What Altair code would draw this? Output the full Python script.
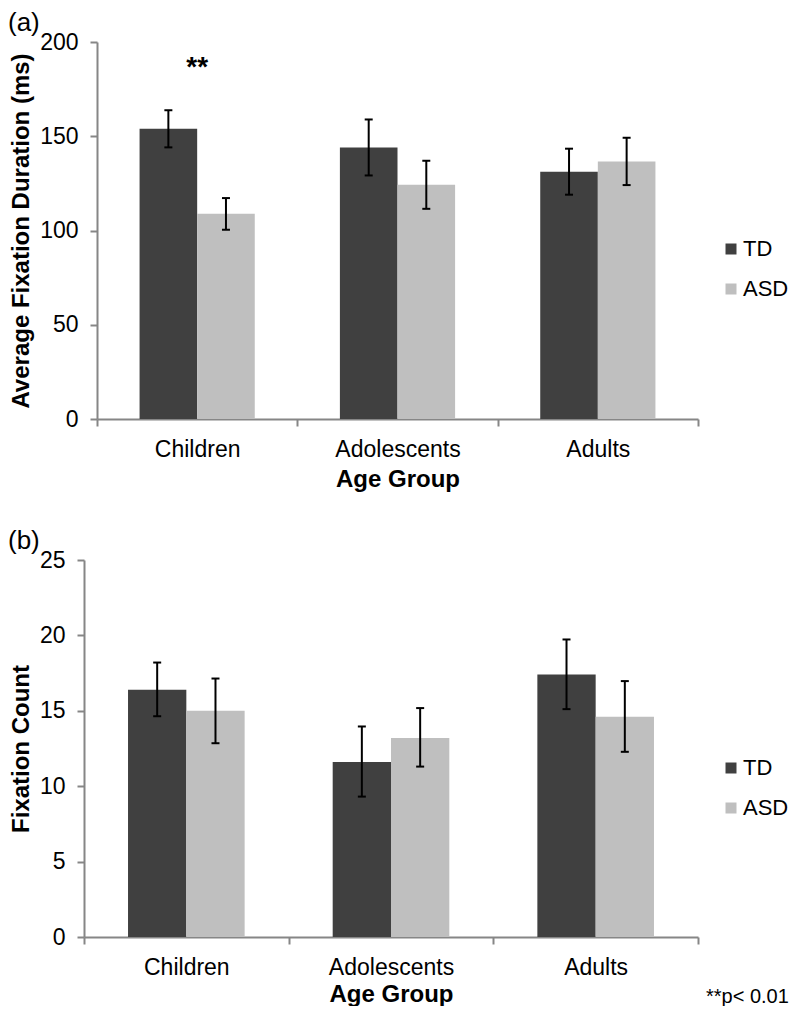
import altair as alt
import pandas as pd

groups = ["Children", "Adolescents", "Adults"]
series = ["TD", "ASD"]
colors = ["#404040", "#bfbfbf"]

# (a) Average fixation duration (ms)
dur_td = [154.0, 144.0, 131.2]
dur_asd = [108.9, 124.3, 136.6]
dur_td_lo = [144.1, 129.2, 119.0]
dur_td_hi = [163.8, 158.9, 143.4]
dur_asd_lo = [100.4, 111.5, 124.1]
dur_asd_hi = [117.2, 137.0, 149.2]
dur_ticks = [0, 50, 100, 150, 200]

# (b) Fixation count
cnt_td = [16.4, 11.6, 17.4]
cnt_asd = [15.0, 13.2, 14.6]
cnt_td_lo = [14.64, 9.31, 15.11]
cnt_td_hi = [18.2, 13.96, 19.73]
cnt_asd_lo = [12.85, 11.30, 12.28]
cnt_asd_hi = [17.14, 15.18, 16.97]
cnt_ticks = [0, 5, 10, 15, 20, 25]

FONT = "Liberation Sans"
AXIS_GRAY = "#868686"


def frame(td, asd, td_lo, td_hi, asd_lo, asd_hi):
    rows = []
    for i, g in enumerate(groups):
        rows.append({"group": g, "series": "TD", "mean": td[i], "lo": td_lo[i], "hi": td_hi[i]})
        rows.append({"group": g, "series": "ASD", "mean": asd[i], "lo": asd_lo[i], "hi": asd_hi[i]})
    return pd.DataFrame(rows)


def panel(df, ytitle, ydomain, yticks, xrange, po, yoff, ytitle_x, xtitle_x, xtitle_y, legend_y, tag):
    W, H = 614, 377
    xaxis = alt.Axis(
        title="Age Group", titleFont=FONT, titleFontSize=24, titleFontWeight="bold",
        titleColor="black", titleY=xtitle_y, titleBaseline="middle", titleX=xtitle_x,
        labelFont=FONT, labelFontSize=23, labelColor="black", labelAngle=0, labelPadding=12,
        tickBand="extent", tickSize=7, tickColor=AXIS_GRAY, tickWidth=2,
        domainColor=AXIS_GRAY, domainWidth=2,
    )
    yaxis = alt.Axis(
        title=ytitle, titleFont=FONT, titleFontSize=24, titleFontWeight="bold",
        titleColor="black", titleX=ytitle_x, titleY=H / 2, titleBaseline="alphabetic",
        titleAngle=270, titleAlign="center",
        labelFont=FONT, labelFontSize=23, labelColor="black", labelPadding=12,
        values=yticks, tickSize=7, tickColor=AXIS_GRAY, tickWidth=2,
        domainColor=AXIS_GRAY, domainWidth=2, grid=False, offset=yoff,
    )
    x = alt.X("group:N", sort=groups,
              scale=alt.Scale(range=xrange, paddingInner=0, paddingOuter=0), axis=xaxis)
    xo = alt.XOffset("series:N", sort=series,
                     scale=alt.Scale(domain=series, paddingInner=0, paddingOuter=po))
    yscale = alt.Scale(domain=ydomain, nice=False, zero=True)

    bars = alt.Chart(df).mark_bar().encode(
        x=x, xOffset=xo,
        y=alt.Y("mean:Q", scale=yscale, axis=yaxis),
        color=alt.Color("series:N", sort=series,
                        scale=alt.Scale(domain=series, range=colors),
                        legend=alt.Legend(
                            orient="none", legendX=636, legendY=legend_y, title=None,
                            symbolType="square", symbolSize=121, symbolStrokeWidth=0,
                            symbolOpacity=1, labelFont=FONT, labelFontSize=22,
                            labelColor="black", labelOffset=1, rowPadding=18, padding=0)),
    )
    rules = alt.Chart(df).mark_rule(color="black", strokeWidth=2).encode(
        x=x, xOffset=xo,
        y=alt.Y("lo:Q", scale=yscale, axis=yaxis), y2="hi:Q",
    )
    cap_lo = alt.Chart(df).mark_tick(color="black", size=8, thickness=2, opacity=1).encode(
        x=x, xOffset=xo, y=alt.Y("lo:Q", scale=yscale, axis=yaxis),
    )
    cap_hi = alt.Chart(df).mark_tick(color="black", size=8, thickness=2, opacity=1).encode(
        x=x, xOffset=xo, y=alt.Y("hi:Q", scale=yscale, axis=yaxis),
    )
    tag_df = pd.DataFrame({"t": [tag]})
    tag_txt = alt.Chart(tag_df).mark_text(
        font=FONT, fontSize=26, color="black", align="left", baseline="alphabetic"
    ).encode(text="t:N", x=alt.value(-76), y=alt.value(-11))
    layers = [bars, rules, cap_lo, cap_hi, tag_txt]
    return layers, W, H, x, yscale, yaxis


# Panel (a)
df_a = frame(dur_td, dur_asd, dur_td_lo, dur_td_hi, dur_asd_lo, dur_asd_hi)
layers_a, W, H, xa, ysa, yaa = panel(df_a, "Average Fixation Duration (ms)", [0, 200], dur_ticks,
                                     [13, 614], 0.739, -13, -69, 313.5, 60, 196, "(a)")
star_df = pd.DataFrame({"group": ["Children"], "y": [182], "t": ["**"]})
star = alt.Chart(star_df).mark_text(
    font=FONT, fontSize=28, fontWeight="bold", color="black", baseline="alphabetic"
).encode(
    x=xa,
    y=alt.Y("y:Q", scale=ysa, axis=yaa),
    text="t:N",
)
chart_a = alt.layer(*layers_a, star).properties(width=W, height=H)

# Panel (b)
df_b = frame(cnt_td, cnt_asd, cnt_td_lo, cnt_td_hi, cnt_asd_lo, cnt_asd_hi)
layers_b, W, H, xb, ysb, yab = panel(df_b, "Fixation Count", [0, 25], cnt_ticks,
                                     [0, 614], 0.755, 0, -56, 307, 57, 197, "(b)")
note_df = pd.DataFrame({"t": ["**p< 0.01"]})
note = alt.Chart(note_df).mark_text(
    font=FONT, fontSize=20, color="black", align="left", baseline="middle"
).encode(text="t:N", x=alt.value(622), y=alt.value(437))
chart_b = alt.layer(*layers_b, note).properties(width=W, height=H)

chart = alt.vconcat(chart_a, chart_b, spacing=37).resolve_scale(
    color="independent", x="independent", y="independent", xOffset="independent"
).resolve_legend(color="independent").configure_view(stroke=None).properties(
    padding={"left": 0, "top": 2, "right": 1, "bottom": -1}, background="white"
)

chart.save("out.html", embed_options={"renderer": "svg", "actions": False})
